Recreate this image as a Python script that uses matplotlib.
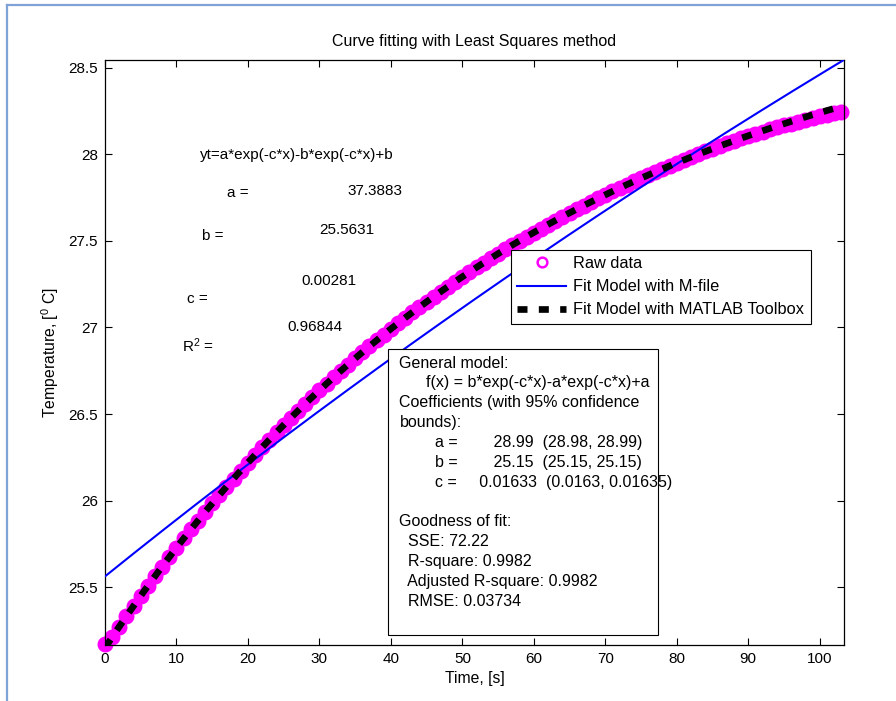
import matplotlib
matplotlib.use("Agg")
import matplotlib.pyplot as plt
import numpy as np
from matplotlib.lines import Line2D
from matplotlib.patches import Rectangle

plt.rcParams['font.family'] = ['Liberation Sans', 'DejaVu Sans']
plt.rcParams['mathtext.default'] = 'regular'

# raw temperature readings, one per second starting at t = 0
tempRaw = [
    25.170, 25.212, 25.273, 25.333, 25.392, 25.451, 25.508, 25.565, 25.620, 25.675,
    25.729, 25.782, 25.834, 25.885, 25.935, 25.984, 26.033, 26.081, 26.128, 26.174,
    26.220, 26.265, 26.309, 26.352, 26.395, 26.437, 26.478, 26.519, 26.559, 26.598,
    26.637, 26.675, 26.712, 26.749, 26.786, 26.822, 26.857, 26.892, 26.926, 26.959,
    26.992, 27.024, 27.056, 27.087, 27.118, 27.148, 27.178, 27.207, 27.236, 27.264,
    27.293, 27.320, 27.347, 27.374, 27.400, 27.426, 27.451, 27.476, 27.501, 27.525,
    27.548, 27.571, 27.594, 27.617, 27.639, 27.661, 27.683, 27.704, 27.725, 27.745,
    27.766, 27.786, 27.805, 27.824, 27.843, 27.862, 27.880, 27.898, 27.916, 27.933,
    27.950, 27.967, 27.983, 28.000, 28.016, 28.032, 28.047, 28.063, 28.078, 28.092,
    28.107, 28.119, 28.131, 28.143, 28.155, 28.166, 28.177, 28.188, 28.199, 28.209,
    28.220, 28.229, 28.238, 28.246]
timeRaw = np.arange(len(tempRaw))

# coefficients shown on the chart
mfileA, mfileB, mfileC = 37.3883, 25.5631, 0.00281
toolboxA, toolboxB, toolboxC = 28.99, 25.15, 0.01633

xTicks = [0, 10, 20, 30, 40, 50, 60, 70, 80, 90, 100]
yTicks = [25.5, 26, 26.5, 27, 27.5, 28, 28.5]
yTickLabels = ["25.5", "26", "26.5", "27", "27.5", "28", "28.5"]

boxLines = [
    "General model:",
    "      f(x) = b*exp(-c*x)-a*exp(-c*x)+a",
    "Coefficients (with 95% confidence",
    "bounds):",
    "        a =        28.99  (28.98, 28.99)",
    "        b =        25.15  (25.15, 25.15)",
    "        c =     0.01633  (0.0163, 0.01635)",
    "",
    "Goodness of fit:",
    "  SSE: 72.22",
    "  R-square: 0.9982",
    "  Adjusted R-square: 0.9982",
    "  RMSE: 0.03734"]

xFit = np.linspace(0, 103.4, 400)
mfileFit = mfileA * (1 - np.exp(-mfileC * xFit)) + mfileB * np.exp(-mfileC * xFit)
toolboxFit = toolboxB * np.exp(-toolboxC * xFit) - toolboxA * np.exp(-toolboxC * xFit) + toolboxA

fig = plt.figure(figsize=(8.96, 7.01), dpi=100)
ax = fig.add_axes([105 / 896, 56 / 701, 739 / 896, 585 / 701])

ax.plot(timeRaw, tempRaw, linestyle='none', marker='o', markersize=6,
        markerfacecolor='none', markeredgecolor='#ff00ff', markeredgewidth=5.5,
        clip_on=False, zorder=2)
mfileLine, = ax.plot(xFit, mfileFit, color='#0000ff', lw=1.5, zorder=3)
toolboxLine, = ax.plot(xFit, toolboxFit, color='black', lw=4.8,
                       dashes=(1.5, 1.7), zorder=4)

ax.set_xlim(0, 103.4)
ax.set_ylim(25.167, 28.544)
ax.set_xticks(xTicks)
ax.set_yticks(yTicks)
ax.set_yticklabels(yTickLabels)
ax.tick_params(direction='in', length=5, width=0.8, top=True, right=True,
               labelsize=11, pad=5)
for s in ax.spines.values():
    s.set_linewidth(0.9)

ax.set_title("Curve fitting with Least Squares method", fontsize=11.5, pad=10)
ax.set_xlabel("Time, [s]", fontsize=11.3, labelpad=4)
ax.set_ylabel("Temperature, [$^0$ C]", fontsize=11.3, labelpad=5)

# M-file results written on the plot
ax.text(13.3, 27.996, "yt=a*exp(-c*x)-b*exp(-c*x)+b", fontsize=11, va='center')
ax.text(17.03, 27.776, "a =", fontsize=11, va='center')
ax.text(33.86, 27.788, "%.4f" % mfileA, fontsize=11, va='center')
ax.text(13.52, 27.528, "b =", fontsize=11, va='center')
ax.text(29.95, 27.563, "%.4f" % mfileB, fontsize=11, va='center')
ax.text(27.52, 27.270, "%.5f" % mfileC, fontsize=11, va='center')
ax.text(11.43, 27.165, "c =", fontsize=11, va='center')
ax.text(25.57, 27.005, "0.96844", fontsize=11, va='center')
ax.text(10.82, 26.893, "R$^2$ =", fontsize=11, va='center')

# toolbox result box
ax.add_patch(Rectangle((39.65, 25.222), 37.69, 1.653, facecolor='white',
                       edgecolor='black', lw=0.8, zorder=5))
for i, line in enumerate(boxLines):
    ax.text(41.2, 26.794 - i * 0.1145, line, fontsize=11.5, va='center', zorder=6)

rawHandle = Line2D([], [], linestyle='none', marker='o', markersize=7,
                   markerfacecolor='none', markeredgecolor='#ff00ff',
                   markeredgewidth=1.8)
leg = ax.legend([rawHandle, mfileLine, toolboxLine],
                ["Raw data", "Fit Model with M-file", "Fit Model with MATLAB Toolbox"],
                loc='upper left', bbox_to_anchor=(0.549, 0.676), borderaxespad=0,
                fontsize=11.8, handlelength=3.0, handletextpad=0.4, labelspacing=0.5,
                borderpad=0.4, fancybox=False, framealpha=1, edgecolor='black')
leg.get_frame().set_linewidth(0.8)
leg.set_zorder(7)

# outer window frame
fig.add_artist(Line2D([7 / 896, 7 / 896], [0, 1 - 5 / 701], color='#7fa3d6',
                      lw=1.6, transform=fig.transFigure))
fig.add_artist(Line2D([7 / 896, 1], [1 - 5 / 701, 1 - 5 / 701], color='#7fa3d6',
                      lw=1.6, transform=fig.transFigure))

fig.savefig("out.png", dpi=100)
